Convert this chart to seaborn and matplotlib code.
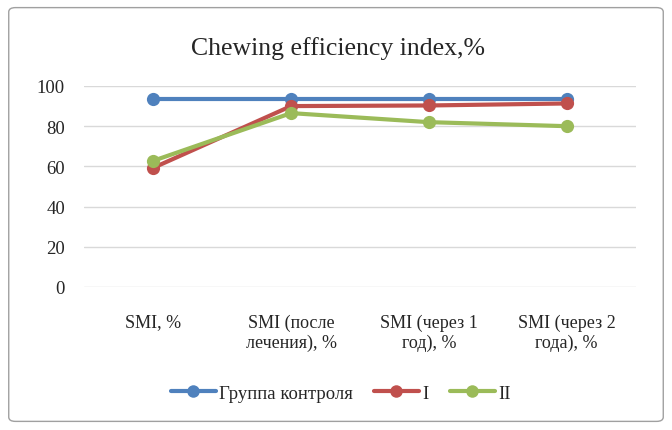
import pandas as pd
import seaborn as sns
import matplotlib.pyplot as plt
from matplotlib.patches import FancyBboxPatch
from matplotlib.lines import Line2D

# данные с графика
categories = ['SMI, %', 'SMI (после\nлечения), %', 'SMI (через 1\nгод), %', 'SMI (через 2\nгода), %']
control = [93.5, 93.5, 93.5, 93.5]
group1 = [59.3, 90.0, 90.3, 91.3]
group2 = [62.8, 86.5, 82.0, 80.0]
series_names = ['Группа контроля', 'I', 'II']
colors = ['#4F81BD', '#C0504D', '#9BBB59']

rows = []
for name, vals in zip(series_names, [control, group1, group2]):
    for i, v in enumerate(vals):
        rows.append({'pos': i, 'value': v, 'group': name})
df = pd.DataFrame(rows)

sns.set_style('white')
plt.rcParams['font.family'] = ['Liberation Serif', 'DejaVu Serif']

fig = plt.figure(figsize=(6.72, 4.31), dpi=100)
ax = fig.add_axes([0.1257, 0.3318, 0.82, 0.4664])

sns.lineplot(data=df, x='pos', y='value', hue='group', palette=colors,
             hue_order=series_names, marker='o', markersize=9.5, linewidth=3,
             markeredgewidth=0, legend=False, ax=ax)

ax.set_xlim(-0.5, 3.5)
ax.set_ylim(0, 100)
ax.set_yticks(range(0, 101, 20))
ax.set_xticks(range(len(categories)))
ax.set_xticklabels(categories, fontsize=13)
ax.tick_params(axis='y', labelsize=13.5, length=0, pad=14)
ax.tick_params(axis='x', length=0, pad=19)
ax.set_xlabel('')
ax.set_ylabel('')
ax.grid(axis='y', color='#D9D9D9', linewidth=1)
ax.set_axisbelow(True)
for s in ax.spines.values():
    s.set_visible(False)

fig.text(0.503, 0.888, 'Chewing efficiency index,%', ha='center', va='center', fontsize=18.5)

handles = [Line2D([0], [0], color=c, lw=3, marker='o', markersize=9, markeredgewidth=0)
           for c in colors]
fig.legend(handles, series_names, loc='center', bbox_to_anchor=(0.507, 0.085), ncol=3,
           frameon=False, fontsize=13.5, handlelength=2.4, columnspacing=1.1, handletextpad=0.2)

border = FancyBboxPatch((0.013, 0.02), 0.974, 0.96, boxstyle='round,pad=0,rounding_size=0.01',
                        transform=fig.transFigure, fill=False, edgecolor='#A0A0A0', linewidth=1)
fig.patches.append(border)

plt.savefig('out.png', dpi=100)
